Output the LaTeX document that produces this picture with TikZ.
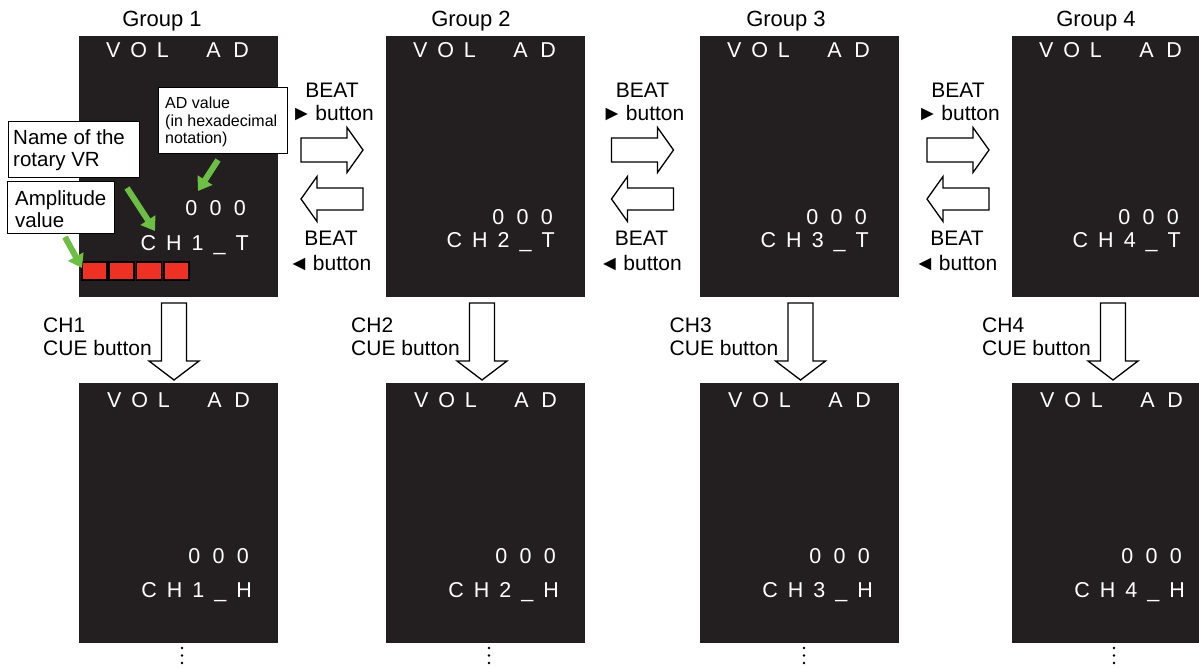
\documentclass[tikz,border=0pt]{standalone}
\usepackage{fontspec}
\setmainfont{Liberation Sans}
\usetikzlibrary{arrows.meta,calc}
\definecolor{panelbg}{HTML}{231F20}
\definecolor{ampred}{HTML}{EE3124}
\definecolor{callgreen}{HTML}{6CBE45}
\newcommand\gsp{\hspace{9.8pt}}
\newcommand\asp{\hspace{12.5pt}}
\newcommand\dsp{\hspace{12.3pt}}
\newcommand\csp{\hspace{10pt}}
\begin{document}
\begin{tikzpicture}[x=1pt,y=-1pt,
 panel/.style={fill=panelbg,draw=none,inner sep=0pt,outer sep=0pt,anchor=north west,minimum width=199pt,minimum height=261pt},
 ptext/.style={text=white,inner sep=0pt,font=\fontsize{21.5}{25}\selectfont},
 lbl/.style={inner sep=0pt,anchor=base,font=\fontsize{21}{25}\selectfont},
 cue/.style={inner sep=0pt,anchor=base west,font=\fontsize{21}{25}\selectfont},
 grp/.style={inner sep=0pt,anchor=base,font=\fontsize{22}{26}\selectfont},
 blk/.style={draw=black,fill=white,line width=1.3pt,line join=miter},
 callout/.style={draw=black,fill=white,line width=1.2pt,inner sep=0pt,anchor=north west},
 ctxt/.style={inner sep=0pt,anchor=base west,font=\fontsize{20.5}{24}\selectfont},
 adtxt/.style={inner sep=0pt,anchor=base west,font=\fontsize{16}{18}\selectfont},
 garrow/.style={draw=callgreen,line width=6pt,-{Triangle[length=13pt,width=17pt]}},
 ampbox/.style={fill=ampred,draw=black,line width=1.8pt,inner sep=0pt,minimum width=25pt,minimum height=18pt,anchor=north west},
 dot/.style={fill=black,circle,inner sep=0pt,minimum size=2.8pt},
 rarrow/.pic={\draw[blk] (-31,-12) -- (15,-12) -- (15,-22.5) -- (31,0) -- (15,22.5) -- (15,12) -- (-31,12) -- cycle;},
 larrow/.pic={\draw[blk] (31,-11) -- (-15,-11) -- (-15,-22.5) -- (-31,0) -- (-15,22.5) -- (-15,11) -- (31,11) -- cycle;},
 darrow/.pic={\draw[blk] (-12.5,-77) -- (12.5,-77) -- (12.5,-19) -- (25,-19) -- (0,0) -- (-25,-19) -- (-12.5,-19) -- cycle;}
]
\useasboundingbox (0,0) rectangle (1199,667);

% top panels
\node[panel] (t1) at (79,36) {};
\node[panel] (t2) at (386,36) {};
\node[panel] (t3) at (700,36) {};
\node[panel,minimum width=187pt] (t4) at (1012,36) {};
% bottom panels
\node[panel,minimum height=260pt] (b1) at (79,383) {};
\node[panel,minimum height=260pt] (b2) at (386,383) {};
\node[panel,minimum height=260pt] (b3) at (700,383) {};
\node[panel,minimum height=260pt,minimum width=187pt] (b4) at (1012,383) {};

% group labels
\node[grp] (g1) at ($(t1.north west)+(83,-10)$) {Group 1};
\node[grp] (g2) at ($(t2.north west)+(85,-10)$) {Group 2};
\node[grp] (g3) at ($(t3.north west)+(86,-10)$) {Group 3};
\node[grp] (g4) at ($(t4.north west)+(84,-10)$) {Group 4};

% top panel texts
\node[ptext,anchor=base west] (t1vol) at ($(t1.north west)+(27,21)$) {V\gsp O\gsp L};
\node[ptext,anchor=base east] (t1ad) at ($(t1.north west)+(170,21)$) {A\asp D};
\node[ptext,anchor=base east] (t1num) at ($(t1.north west)+(167,179)$) {0\dsp 0\dsp 0};
\node[ptext,anchor=base east] (t1ch) at ($(t1.north west)+(170,214)$) {C\csp H\csp 1\csp\_\csp T};

\node[ptext,anchor=base west] (t2vol) at ($(t2.north west)+(27,21)$) {V\gsp O\gsp L};
\node[ptext,anchor=base east] (t2ad) at ($(t2.north west)+(170,21)$) {A\asp D};
\node[ptext,anchor=base east] (t2num) at ($(t2.north west)+(167,188)$) {0\dsp 0\dsp 0};
\node[ptext,anchor=base east] (t2ch) at ($(t2.north west)+(169,211)$) {C\csp H\csp 2\csp\_\csp T};

\node[ptext,anchor=base west] (t3vol) at ($(t3.north west)+(27,21)$) {V\gsp O\gsp L};
\node[ptext,anchor=base east] (t3ad) at ($(t3.north west)+(170,21)$) {A\asp D};
\node[ptext,anchor=base east] (t3num) at ($(t3.north west)+(167,188)$) {0\dsp 0\dsp 0};
\node[ptext,anchor=base east] (t3ch) at ($(t3.north west)+(169,211)$) {C\csp H\csp 3\csp\_\csp T};

\node[ptext,anchor=base west] (t4vol) at ($(t4.north west)+(27,21)$) {V\gsp O\gsp L};
\node[ptext,anchor=base east] (t4ad) at ($(t4.north west)+(170,21)$) {A\asp D};
\node[ptext,anchor=base east] (t4num) at ($(t4.north west)+(167,188)$) {0\dsp 0\dsp 0};
\node[ptext,anchor=base east] (t4ch) at ($(t4.north west)+(169,211)$) {C\csp H\csp 4\csp\_\csp T};

% bottom panel texts
\node[ptext,anchor=base west] (b1vol) at ($(b1.north west)+(28,24)$) {V\gsp O\gsp L};
\node[ptext,anchor=base east] (b1ad) at ($(b1.north west)+(171,24)$) {A\asp D};
\node[ptext,anchor=base east] (b1num) at ($(b1.north west)+(170,180)$) {0\dsp 0\dsp 0};
\node[ptext,anchor=base east] (b1ch) at ($(b1.north west)+(173,214)$) {C\csp H\csp 1\csp\_\csp H};

\node[ptext,anchor=base west] (b2vol) at ($(b2.north west)+(28,24)$) {V\gsp O\gsp L};
\node[ptext,anchor=base east] (b2ad) at ($(b2.north west)+(171,24)$) {A\asp D};
\node[ptext,anchor=base east] (b2num) at ($(b2.north west)+(170,180)$) {0\dsp 0\dsp 0};
\node[ptext,anchor=base east] (b2ch) at ($(b2.north west)+(173,214)$) {C\csp H\csp 2\csp\_\csp H};

\node[ptext,anchor=base west] (b3vol) at ($(b3.north west)+(28,24)$) {V\gsp O\gsp L};
\node[ptext,anchor=base east] (b3ad) at ($(b3.north west)+(171,24)$) {A\asp D};
\node[ptext,anchor=base east] (b3num) at ($(b3.north west)+(170,180)$) {0\dsp 0\dsp 0};
\node[ptext,anchor=base east] (b3ch) at ($(b3.north west)+(173,214)$) {C\csp H\csp 3\csp\_\csp H};

\node[ptext,anchor=base west] (b4vol) at ($(b4.north west)+(28,24)$) {V\gsp O\gsp L};
\node[ptext,anchor=base east] (b4ad) at ($(b4.north west)+(171,24)$) {A\asp D};
\node[ptext,anchor=base east] (b4num) at ($(b4.north west)+(170,180)$) {0\dsp 0\dsp 0};
\node[ptext,anchor=base east] (b4ch) at ($(b4.north west)+(173,214)$) {C\csp H\csp 4\csp\_\csp H};

% amplitude squares
\node[ampbox] (a1) at (81,261) {};
\node[ampbox] (a2) at (108.3,261) {};
\node[ampbox] (a3) at (135.6,261) {};
\node[ampbox] (a4) at (162.9,261) {};

% callouts
\node[callout,minimum width=129pt,minimum height=66pt] (cad) at (158,87) {};
\node[adtxt] (cad1) at (165,108) {AD value};
\node[adtxt] (cad2) at (165,126) {(in hexadecimal};
\node[adtxt] (cad3) at (165,143) {notation)};
\node[callout,minimum width=131pt,minimum height=56pt] (cname) at (8,121) {};
\node[ctxt] (cname1) at (13,144) {Name of the};
\node[ctxt] (cname2) at (13,166) {rotary VR};
\node[callout,minimum width=107pt,minimum height=52pt] (camp) at (7,181) {};
\node[ctxt] (camp1) at (15,205) {Amplitude};
\node[ctxt] (camp2) at (15,227) {value};

% green pointers
\coordinate (gad0) at (218,160); \coordinate (gad1) at (198,191);
\coordinate (gnm0) at (127,188); \coordinate (gnm1) at (155,231);
\coordinate (gam0) at (65,237);  \coordinate (gam1) at (82,268);
\draw[garrow] (gad0) -- (gad1);
\draw[garrow] (gnm0) -- (gnm1);
\draw[garrow] (gam0) -- (gam1);

% BEAT arrows between panels
\coordinate (m12) at ($(t1.north east)!0.5!(t2.north west)$);
\coordinate (m23) at ($(t2.north east)!0.5!(t3.north west)$);
\coordinate (m34) at ($(t3.north east)!0.5!(t4.north west)+(2.5,0)$);
\foreach \m/\k in {m12/a,m23/b,m34/c}{
  \pic at ($(\m)+(0,114)$) {rarrow};
  \pic at ($(\m)+(0,163)$) {larrow};
  \node[lbl] (beatr\k) at ($(\m)+(0,61)$) {BEAT};
  \node[lbl] (btnr\k) at ($(\m)+(0.5,84)$) {►\,button};
  \node[lbl] (beatl\k) at ($(\m)+(-1,209)$) {BEAT};
  \node[lbl] (btnl\k) at ($(\m)+(-2,234)$) {◄\,button};
}

% CUE arrows
\coordinate (d1) at ($(b1.north west)+(95,-3)$);
\coordinate (d2) at ($(b2.north west)+(96,-3)$);
\coordinate (d3) at ($(b3.north west)+(100.5,-3)$);
\coordinate (d4) at ($(b4.north west)+(101,-3)$);
\foreach \d/\n in {d1/1,d2/2,d3/3,d4/4}{
  \pic at (\d) {darrow};
  \node[cue] (cuech\n) at ($(\d)+(-131,-48)$) {CH\n};
  \node[cue] (cuebtn\n) at ($(\d)+(-131,-25)$) {CUE button};
}

% continuation dots
\foreach \b/\dx in {b1/103,b2/103,b3/104,b4/102}{
  \foreach \dy in {5,12.5,20}{
    \node[dot] at ($(\b.south west)+(\dx,\dy)$) {};
  }
}
\end{tikzpicture}
\end{document}
